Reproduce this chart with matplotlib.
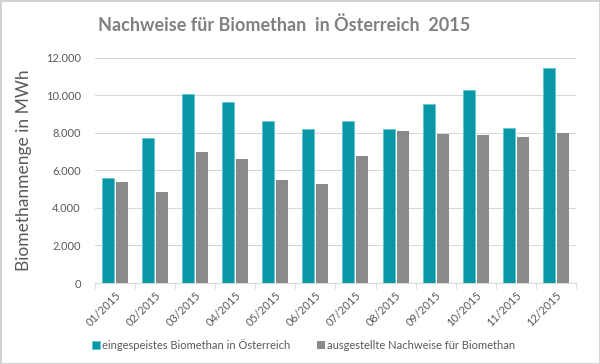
import numpy as np
import matplotlib.pyplot as plt
from matplotlib.ticker import FuncFormatter

# Monatswerte 2015 (MWh)
monate = ["01/2015", "02/2015", "03/2015", "04/2015", "05/2015", "06/2015",
          "07/2015", "08/2015", "09/2015", "10/2015", "11/2015", "12/2015"]
eingespeist = [5600, 7750, 10070, 9650, 8610, 8230, 8630, 8190, 9540, 10300, 8280, 11450]
nachweise = [5360, 4840, 6990, 6610, 5470, 5280, 6790, 8100, 7960, 7870, 7770, 8010]

teal = "#0a97a5"
grau = "#8a8a8a"
text_grau = "#595959"

plt.rcParams["font.family"] = ["Lato", "DejaVu Sans"]

fig = plt.figure(figsize=(6, 3.64), dpi=100)
ax = fig.add_axes([0.158, 0.2225, 0.802, 0.6185])

x = np.arange(len(monate))
ax.bar(x - 0.175, eingespeist, 0.3, color=teal, edgecolor="#5fc9d2", linewidth=0.6,
       label="eingespeistes Biomethan in Österreich", zorder=3)
ax.bar(x + 0.175, nachweise, 0.3, color=grau, label="ausgestellte Nachweise für Biomethan", zorder=3)

ax.set_xlim(-0.5, len(monate) - 0.5)
ax.set_ylim(0, 12000)
ax.set_yticks(np.arange(0, 12001, 2000))
ax.yaxis.set_major_formatter(FuncFormatter(lambda v, p: f"{int(v):,}".replace(",", ".")))
ax.grid(axis="y", color="#d9d9d9", linewidth=0.8, zorder=0)

ax.set_xticks(x)
ax.set_xticklabels(monate, rotation=45, ha="right", rotation_mode="anchor")
ax.set_xticks(np.arange(-0.5, len(monate)), minor=True)
ax.tick_params(axis="x", which="major", length=0, pad=5, labelsize=8, labelcolor=text_grau)
ax.tick_params(axis="x", which="minor", length=4, color="#d9d9d9")
ax.tick_params(axis="y", length=0, pad=10, labelsize=8, labelcolor=text_grau)

for s in ["top", "right", "left"]:
    ax.spines[s].set_visible(False)
ax.spines["bottom"].set_color("#d9d9d9")

ax.set_ylabel("Biomethanmenge in MWh", fontsize=12.5, color=text_grau, labelpad=10)
fig.text(0.473, 0.93, "Nachweise für Biomethan  in Österreich  2015", ha="center", va="center",
         fontsize=13, fontweight="bold", color="#808080")

ax.legend(loc="center left", bbox_to_anchor=(-0.005, -0.275), ncol=2, frameon=False,
          borderaxespad=0, borderpad=0, fontsize=8, labelcolor=text_grau,
          handlelength=0.7, handleheight=0.7, handletextpad=0.2, columnspacing=2.4)

fig.patches.append(plt.Rectangle((0, 0), 1, 1, transform=fig.transFigure, fill=False,
                                 edgecolor="#d0d0d0", linewidth=2))
fig.savefig("out.png")
